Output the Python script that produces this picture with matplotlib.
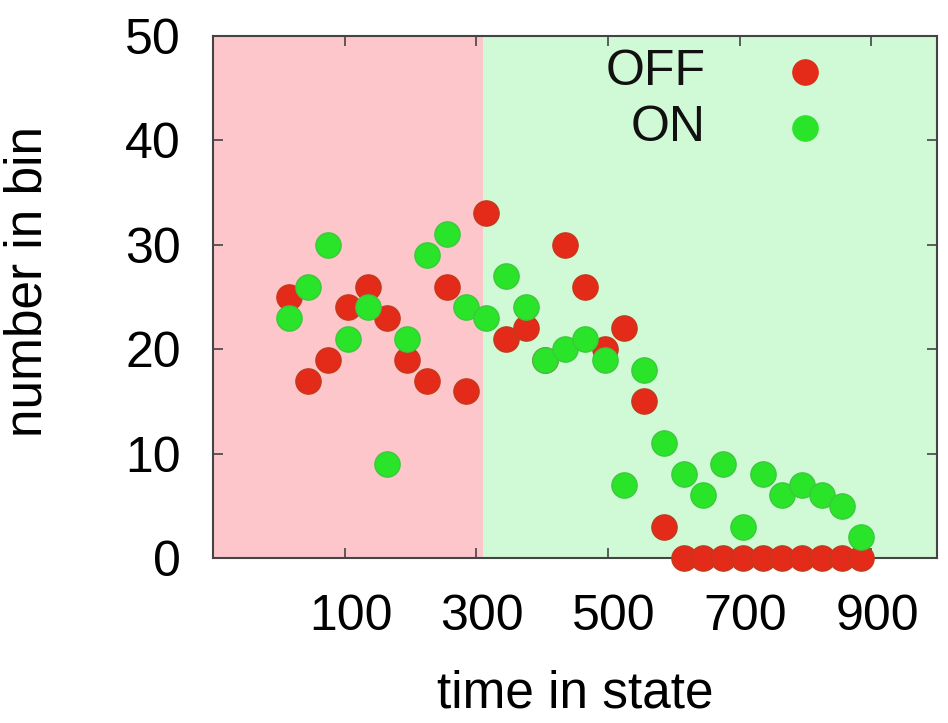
import numpy as np
import matplotlib.pyplot as plt
from matplotlib.transforms import ScaledTranslation

plt.rcParams['font.family'] = ['Liberation Sans', 'DejaVu Sans']

# bin centres (30 wide) and counts per bin
time_bins = [15, 45, 75, 105, 135, 165, 195, 225, 255, 285,
             315, 345, 375, 405, 435, 465, 495, 525, 555, 585,
             615, 645, 675, 705, 735, 765, 795, 825, 855, 885]
off_counts = [25, 17, 19, 24, 26, 23, 19, 17, 26, 16,
              33, 21, 22, 19, 30, 26, 20, 22, 15, 3,
              0, 0, 0, 0, 0, 0, 0, 0, 0, 0]
on_counts = [23, 26, 30, 21, 24, 9, 21, 29, 31, 24,
             23, 27, 24, 19, 20, 21, 19, 7, 18, 11,
             8, 6, 9, 3, 8, 6, 7, 6, 5, 2]

state_switch = 310
xticks = [100, 300, 500, 700, 900]
yticks = [0, 10, 20, 30, 40, 50]

off_col = '#e42a18'
on_col = '#2ae42a'
dot = 330

fig = plt.figure(figsize=(9.48, 7.23), dpi=100)
ax = fig.add_axes([0.2247, 0.2282, 0.7637, 0.722])

xmin, xmax = -100, 1000
ax.axvspan(xmin, state_switch, color='#fdc6ca', lw=0, zorder=0)
ax.axvspan(state_switch, xmax, color='#d0f9d5', lw=0, zorder=0)

ax.scatter(time_bins, off_counts, s=dot, color=off_col, edgecolors='#c23a1c',
           linewidths=1, zorder=3, clip_on=False)
ax.scatter(time_bins, on_counts, s=dot, color=on_col, edgecolors='#3cc83c',
           linewidths=1, zorder=4, clip_on=False)

ax.set_xlim(xmin, xmax)
ax.set_ylim(0, 50)
ax.set_xticks(xticks)
ax.set_yticks(yticks)
ax.tick_params(direction='in', length=7, width=1.2, labelsize=36,
               top=True, right=True, color='#444444')
ax.tick_params(axis='x', pad=26)
ax.tick_params(axis='y', pad=23)
# x labels sit a little right of their ticks
shift = ScaledTranslation(6 / 100, 0, fig.dpi_scale_trans)
for lab in ax.get_xticklabels():
    lab.set_transform(lab.get_transform() + shift)
for sp in ax.spines.values():
    sp.set_linewidth(1.5)
    sp.set_color('#444444')

ax.set_xlabel('time in state', fontsize=37, labelpad=21)
ax.set_ylabel('number in bin', fontsize=37)
ax.yaxis.set_label_coords(-0.222, 0.53)

# key, right-aligned labels with the dot to the right
keys = [('OFF', off_col, 0.931), ('ON', on_col, 0.824)]
for name, col, yk in keys:
    ax.text(0.68, yk, name, transform=ax.transAxes, fontsize=36,
            ha='right', va='center', color='#111111', zorder=5)
    ax.scatter([0.818], [yk], s=dot, color=col, transform=ax.transAxes,
               zorder=5, clip_on=False)

fig.savefig('out.png', dpi=100)
